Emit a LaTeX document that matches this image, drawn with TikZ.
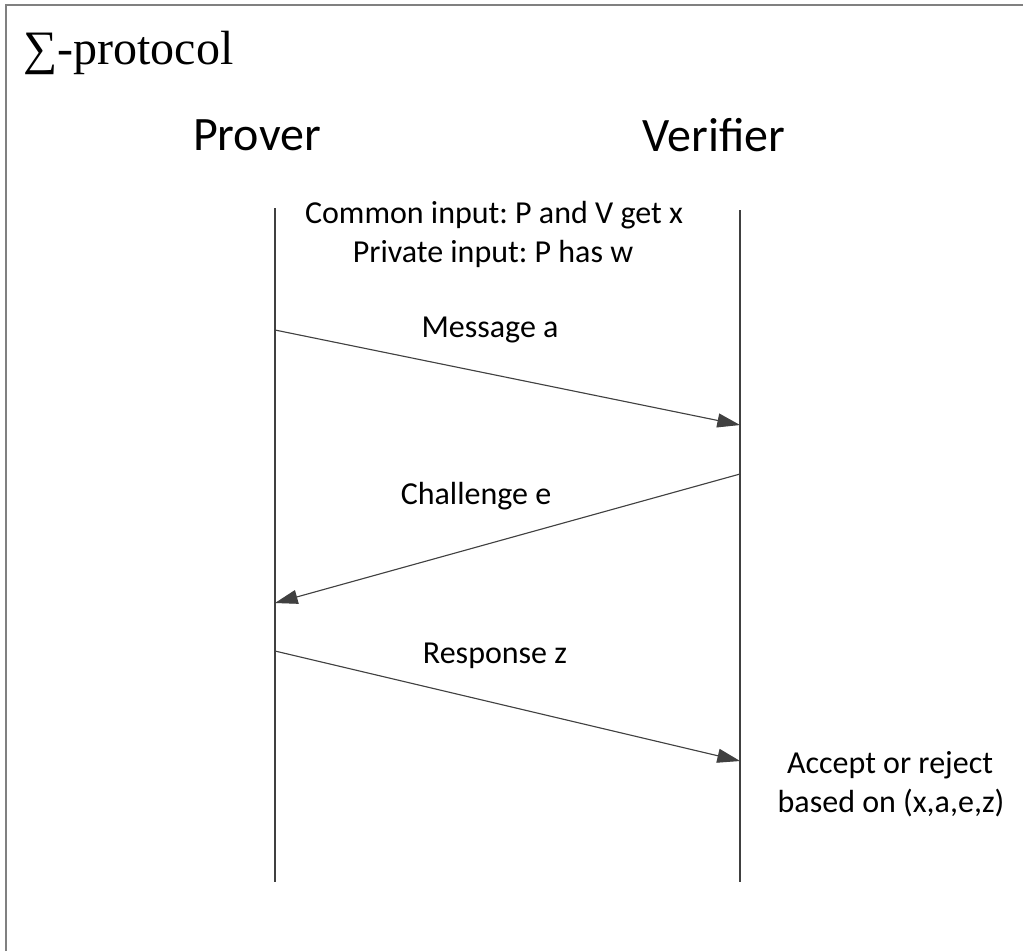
\documentclass[tikz,border=0pt]{standalone}
\usepackage{fontspec}
\setmainfont{Carlito}
\newfontfamily\titlefont{Liberation Serif}
\usetikzlibrary{arrows.meta}
\definecolor{framegray}{RGB}{128,128,128}
\definecolor{linedark}{RGB}{64,64,64}
\definecolor{shadowgray}{RGB}{222,222,222}
\tikzset{
  lifeline/.style={draw=linedark, line width=1.1pt},
  lifeshadow/.style={draw=shadowgray, line width=1.1pt},
  msgline/.style={draw=linedark, line width=0.8pt, -{Triangle[length=17pt,width=10.5pt]}},
  msgshadow/.style={draw=shadowgray, line width=0.8pt, -{Triangle[length=17pt,width=10.5pt]}},
  roletext/.style={font=\fontsize{36}{43}\selectfont, inner sep=0pt, anchor=base},
  labeltext/.style={font=\fontsize{24}{29}\selectfont, inner sep=0pt, anchor=base},
}
\frenchspacing
\begin{document}
\begin{tikzpicture}[x=0.75pt, y=-0.75pt]
\useasboundingbox (0,0) rectangle (1023,951);
% frame
\coordinate (fbl) at (6,951);
\coordinate (ftl) at (6,5);
\coordinate (ftr) at (1023,5);
\draw[framegray, line width=1.6pt] (fbl) -- (ftl) -- (ftr);
% title
\node[inner sep=0pt, anchor=base west, font=\titlefont\fontsize{36}{43}\selectfont] (title) at (23,64) {∑-protocol};
% roles
\node[roletext] (prover) at (257,150) {Prover};
\node[roletext] (verifier) at (714,151) {Verifier};
% lifeline ends
\coordinate (ptop) at (275,208);
\coordinate (pbot) at (275,882);
\coordinate (vtop) at (740,210);
\coordinate (vbot) at (740,882);
% message ends
\coordinate (m1s) at (275,330);
\coordinate (m1e) at (740,425);
\coordinate (m2s) at (740,474);
\coordinate (m2e) at (275,603);
\coordinate (m3s) at (275,651);
\coordinate (m3e) at (740,761);
% shadows
\begin{scope}[shift={(4,3)}]
\draw[lifeshadow] (ptop) -- (pbot);
\draw[lifeshadow] (vtop) -- (vbot);
\draw[msgshadow] (m1s) -- (m1e);
\draw[msgshadow] (m2s) -- (m2e);
\draw[msgshadow] (m3s) -- (m3e);
\end{scope}
% lifelines
\draw[lifeline] (ptop) -- (pbot);
\draw[lifeline] (vtop) -- (vbot);
% messages
\draw[msgline] (m1s) -- (m1e);
\draw[msgline] (m2s) -- (m2e);
\draw[msgline] (m3s) -- (m3e);
% labels
\node[labeltext] (common) at (494,223) {Common input: P and V get x};
\node[labeltext] (private) at (493,262) {Private input: P has w};
\node[labeltext] (msga) at (490,337) {Message a};
\node[labeltext] (chal) at (476,504) {Challenge e};
\node[labeltext] (resp) at (495,663) {Response z};
\node[labeltext] (acc1) at (890,773) {Accept or reject};
\node[labeltext] (acc2) at (891,812) {based on (x,a,e,z)};
\end{tikzpicture}
\end{document}
